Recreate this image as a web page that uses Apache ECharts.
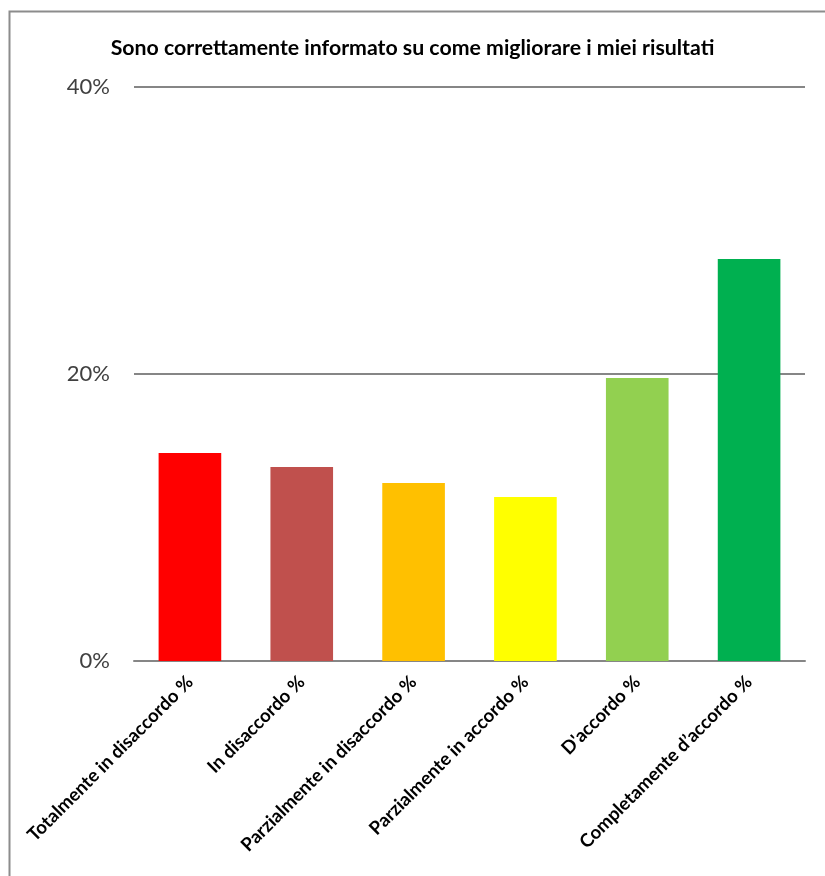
<!DOCTYPE html>
<html><head><meta charset="utf-8">
<script src="https://cdn.jsdelivr.net/npm/echarts@6/dist/echarts.min.js"></script>
<style>html,body{margin:0;padding:0;background:#fff}#c{width:825px;height:876px}</style>
</head><body><div id="c"></div>
<script>
const titleText = 'Sono correttamente informato su come migliorare i miei risultati';
const categories = ['Totalmente in disaccordo %','In disaccordo %','Parzialmente in disaccordo %','Parzialmente in accordo %',"D'accordo %",'Completamente d\u2019accordo %'];
const values = [0.1449, 0.1352, 0.1240, 0.1143, 0.1972, 0.2801];
const colors = ['#FF0000','#C0504D','#FFC000','#FFFF00','#92D050','#00B050'];
const yTicks = [0, 0.2, 0.4];

const chart = echarts.init(document.getElementById('c'));
chart.setOption({
  animation:false,
  backgroundColor:'#fff',
  graphic:[{type:'rect',left:7,top:9,shape:{width:840,height:900},style:{fill:'none',stroke:'#8c8c8c',lineWidth:2},z:-1}],
  title:{text:titleText,left:'center',top:33,textStyle:{fontFamily:'Lato',fontWeight:'bold',fontSize:21.3,color:'#000'}},
  grid:{left:134,right:20,top:87,bottom:215,containLabel:false},
  xAxis:{type:'category',data:categories,
    axisLine:{lineStyle:{color:'#868686',width:2}},axisTick:{show:false},
    axisLabel:{rotate:45,interval:0,margin:18,fontFamily:'Lato',fontWeight:'bold',fontSize:18.5,color:'#000'}},
  yAxis:{type:'value',min:0,max:0.4,interval:0.2,
    axisLine:{show:false},axisTick:{show:false},
    splitLine:{lineStyle:{color:'#868686',width:2}},
    axisLabel:{margin:24,fontFamily:'Lato',fontSize:22,color:'#404040',formatter:v=>Math.round(v*100)+'%'}},
  series:[{type:'bar',barWidth:'56%',
    data:values.map((v,i)=>({value:v,itemStyle:{color:colors[i]}}))}]
});
</script></body></html>
